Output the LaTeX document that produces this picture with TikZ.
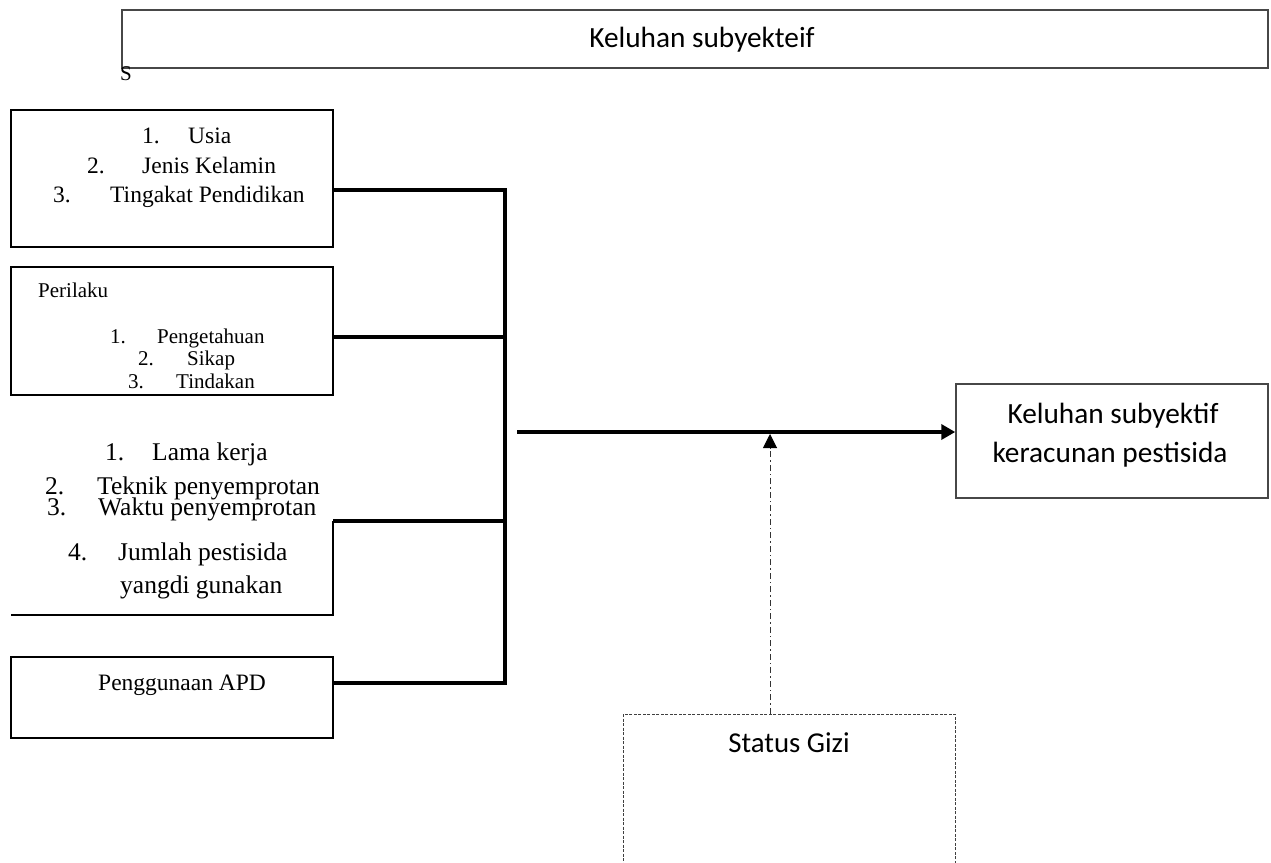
\documentclass[tikz,border=0pt]{standalone}
\usepackage{fontspec}
\setmainfont{Liberation Serif}
\newfontfamily\calib{Carlito}
\usetikzlibrary{arrows.meta}
\newcommand\myfs[2]{\fontsize{#1}{#2}\selectfont}
\begin{document}
\begin{tikzpicture}[x=1pt,y=-1pt,
  blackbox/.style={draw=black, line width=1.6pt, inner sep=0pt, minimum width=322pt},
  graybox/.style={draw=black!72, line width=1.5pt, inner sep=0pt},
  gizibox/.style={draw=black!75, line width=1pt, dash pattern=on 3pt off 1.5pt, inner sep=0pt},
  conn/.style={line width=4pt, line cap=butt, line join=miter},
  txt/.style={anchor=base west, inner sep=0pt},
  ctxt/.style={anchor=base, inner sep=0pt},
  serA/.style={font=\myfs{23.5}{28}},
  serB/.style={font=\myfs{21}{24}},
  serC/.style={font=\myfs{25.5}{30}},
  sans/.style={font=\calib\myfs{29.3}{35}},
]
\useasboundingbox (0,0) rectangle (1271,862);

% boxes
\node[graybox, minimum width=1146pt, minimum height=58pt] (top) at (695,39) {};
\node[blackbox, minimum height=137pt] (box1) at (172,178.5) {};
\node[blackbox, minimum height=128pt] (box2) at (172,331) {};
\node[blackbox, minimum height=81pt] (box4) at (172,697.5) {};
\node[graybox, minimum width=312pt, minimum height=114pt] (res) at (1112,441) {};
\node[gizibox, minimum width=332pt, minimum height=200pt] (gizi) at (789,814) {};

% partial border of third group
\coordinate (g3bl) at (11,615);
\coordinate (g3br) at (333,615);
\coordinate (g3tr) at (333,521);
\draw[line width=1.6pt] (g3bl) -- (g3br) -- (g3tr);

% texts
\node[ctxt, sans] (ttop) at (702,47) {Keluhan subyekteif};
\node[ctxt, font=\myfs{21}{24}] (s) at (126,80) {S};

\node[txt, serA] (u1) at (142,143) {\makebox[46pt][l]{1.}Usia};
\node[txt, serA] (u2) at (87,173) {\makebox[55pt][l]{2.}Jenis Kelamin};
\node[txt, serA] (u3) at (53,202) {\makebox[57pt][l]{3.}Tingakat Pendidikan};

\node[txt, serB] (p0) at (38,297) {Perilaku};
\node[txt, serB] (p1) at (110,343) {\makebox[47pt][l]{1.}Pengetahuan};
\node[txt, serB] (p2) at (138,365) {\makebox[49pt][l]{2.}Sikap};
\node[txt, serB] (p3) at (128,388) {\makebox[48pt][l]{3.}Tindakan};

\node[txt, serC] (k1) at (105,460) {\makebox[47pt][l]{1.}Lama kerja};
\node[txt, serC] (k2) at (45,494) {\makebox[52pt][l]{2.}Teknik penyemprotan};
\node[txt, serC] (k3) at (47,515) {\makebox[51pt][l]{3.}Waktu penyemprotan};
\node[txt, serC] (k4) at (68,560) {\makebox[50pt][l]{4.}Jumlah pestisida};
\node[txt, serC] (k5) at (120,593) {yangdi gunakan};

\node[txt, serA] (apd) at (98,690) {Penggunaan APD};

\node[ctxt, sans] (r1) at (1113,423) {Keluhan subyektif};
\node[ctxt, sans] (r2) at (1110,462) {keracunan pestisida};

\node[ctxt, font=\calib\myfs{28.8}{34}] (gt) at (789,752) {Status Gizi};

% connectors
\coordinate (j1) at (505,190);
\coordinate (j2) at (505,337);
\coordinate (j3) at (505,521);
\coordinate (j4) at (505,683);
\draw[conn] (box1.east |- j1) -- (j1) -- (j4) -- (box4.east |- j4);
\draw[conn] (box2.east |- j2) -- (j2);
\draw[conn] (g3tr) -- (j3);

\coordinate (a0) at (517,432);
\draw[conn, -{Triangle[length=14pt,width=15pt]}] (a0) -- (res.west |- a0);

\coordinate (m) at (770,434);
\draw[line width=1pt, draw=black!80, dash pattern=on 6pt off 3pt on 1.5pt off 3pt,
      -{Triangle[length=14pt,width=14pt,fill=black,color=black]}] (gizi.north -| m) -- (m);
\end{tikzpicture}
\end{document}
